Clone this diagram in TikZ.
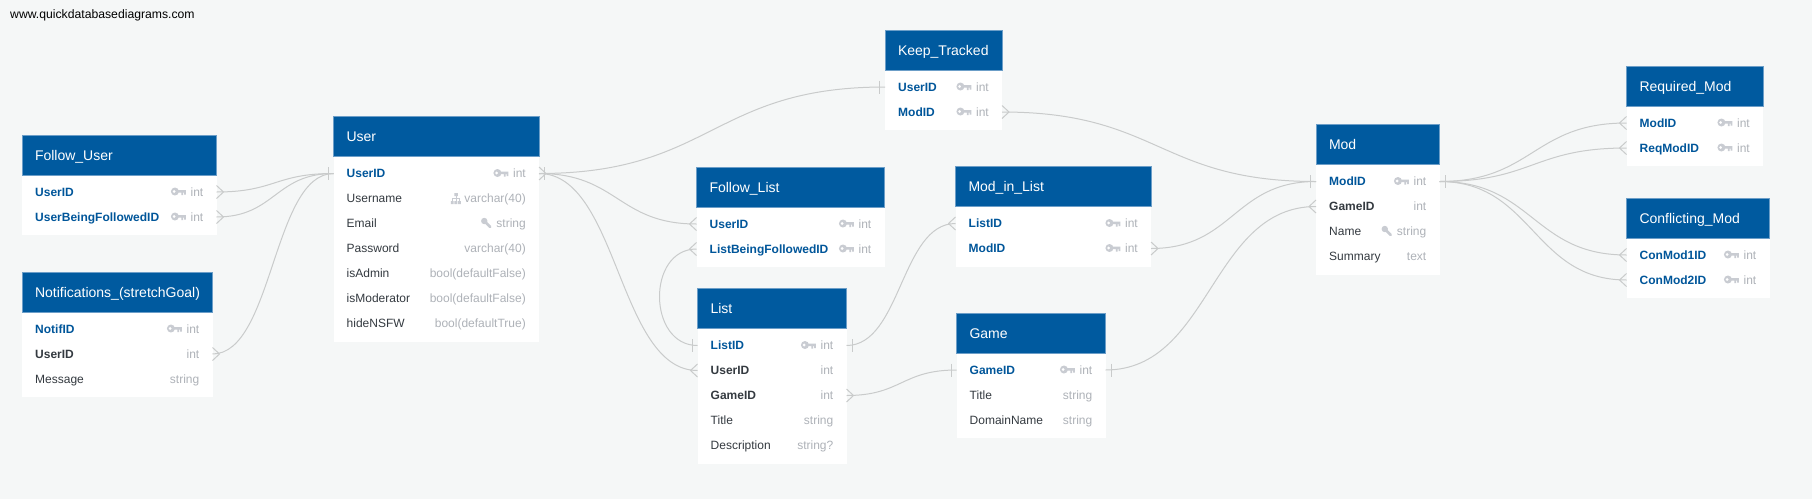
\documentclass[tikz,border=0pt]{standalone}
\usepackage{fontspec}
\setmainfont{Liberation Sans}
\usetikzlibrary{calc}
\definecolor{pagebg}{HTML}{F5F7F7}
\definecolor{headblue}{HTML}{005A9F}
\definecolor{headedge}{HTML}{6C9EC8}
\definecolor{pkblue}{HTML}{00569A}
\definecolor{namedark}{HTML}{343A40}
\definecolor{typegray}{HTML}{AEB2B8}
\definecolor{icongray}{HTML}{C9CCD2}
\definecolor{linkgray}{HTML}{C9CBCB}
\tikzset{
  tablebody/.style={fill=white,draw=none,inner sep=0pt,outer sep=0pt,anchor=north west},
  tablehead/.style={fill=headblue,draw=headedge,line width=.6pt,inner ysep=0pt,inner xsep=13pt,outer sep=0pt,
    anchor=north west,minimum height=40pt,text height=11pt,text depth=1pt,text=white,font=\fontsize{14}{16}\selectfont,align=left},
  rowbox/.style={inner sep=0pt,outer sep=0pt,minimum height=25pt,anchor=west},
  rowpk/.style={inner sep=0pt,anchor=base west,text=pkblue,font=\fontsize{12}{14}\selectfont\bfseries},
  rowfk/.style={inner sep=0pt,anchor=base west,text=namedark,font=\fontsize{12}{14}\selectfont\bfseries},
  rowpl/.style={inner sep=0pt,anchor=base west,text=namedark,font=\fontsize{12}{14}\selectfont},
  typetxt/.style={inner sep=0pt,anchor=base east,text=typegray,font=\fontsize{12}{14}\selectfont},
  linkline/.style={draw=linkgray,line width=1pt},
  sitetxt/.style={inner sep=0pt,anchor=west,text=black,font=\fontsize{12.2}{14}\selectfont},
}
\newcount\rowtally
% icons: #1 is the point at the left end of the type text
\newcommand\drawkey[1]{\begin{scope}[shift={($(#1)+(-19.5,-.5)$)},icongray]
  \fill[even odd rule] (4,0) circle (4) (3.2,0) circle (1.7);
  \fill (7,-1.3) rectangle (15,1.2) (10.5,1) rectangle (12.3,3.6) (13.2,1) rectangle (15,3);
\end{scope}}
\newcommand\drawsite[1]{\begin{scope}[shift={($(#1)+(-13.5,0)$)},icongray]
  \fill (3.5,-5.5) rectangle (7,-2.5) (0,2.5) rectangle (2.8,5.5) (3.6,2.5) rectangle (6.4,5.5) (7.2,2.5) rectangle (10,5.5);
  \draw[line width=.7pt] (5.2,-2.5) -- (5.2,2.5) (1.4,2.5) -- (1.4,.3) -- (8.6,.3) -- (8.6,2.5);
\end{scope}}
\newcommand\drawwr[1]{\begin{scope}[shift={($(#1)+(-15,0)$)},icongray]
  \fill (3,-2.5) circle (3.2);
  \draw[line width=2.6pt,line cap=round] (3.5,-2) -- (9,3.5);
\end{scope}}
\newcommand\drawno[1]{}
% table: name, x0, x1, top, title, rows
\newcommand\ertable[6]{%
  \pgfmathsetlengthmacro\tabw{#3-#2}%
  \pgfmathsetlengthmacro\titw{#3-#2-26}%
  \global\rowtally=0 %
  \foreach \q/\w/\e/\r in {#6}{\global\advance\rowtally by 1}%
  \pgfmathsetlengthmacro\tabh{50+25*\the\rowtally}%
  \node[tablebody,minimum width=\tabw,minimum height=\tabh] (#1) at (#2,#4) {};
  \node[tablehead,minimum width=\tabw,text width=\titw] (#1-head) at (#2,#4) {#5};
  \foreach \rowname/\rowcls/\rowicon/\rowtype [count=\i] in {#6}{%
    \pgfmathsetmacro\yy{#4+32+25*\i}%
    \node[rowbox,minimum width=\tabw] (#1-\i) at (#2,\yy) {};
    \node[\rowcls] (#1-\i-name) at (#2+13,\yy+4) {\rowname};
    \node[typetxt] (#1-\i-type) at (#3-13,\yy+4) {\rowtype};
    \csname draw\rowicon\endcsname{$(#1-\i-type.base west)+(0,-4)$}%
  }%
}
% connectors
\newcommand\conn[2]{\draw[linkline] let \p1=(#1),\p2=(#2),\n1={0.5*(\x2-\x1)} in
  (#1) .. controls (\x1+\n1,\y1) and (\x2-\n1,\y2) .. (#2);}
\newcommand\tickmark[2]{\draw[linkline] ($(#1)+(#2*5.5,-6.5)$) -- ($(#1)+(#2*5.5,6.5)$);}
\newcommand\crowmark[2]{\draw[linkline] ($(#1)+(0,-6.5)$) -- ($(#1)+(#2*7,0)$) -- ($(#1)+(0,6.5)$);}
\begin{document}
\begin{tikzpicture}[x=1pt,y=-1pt]
\path[use as bounding box,fill=pagebg] (0,0) rectangle (1812,499);
\node[sitetxt] (site) at (10,15.5) {www.quickdatabasediagrams.com};

\ertable{FollowUser}{22}{216.5}{135}{Follow\_User}{
  UserID/rowpk/key/int, UserBeingFollowedID/rowpk/key/int}
\ertable{Notif}{22}{212.5}{272}{Notifications\_(stretchGoal)}{
  NotifID/rowpk/key/int, UserID/rowfk/no/int, Message/rowpl/no/string}
\ertable{User}{333.5}{539}{116.5}{User}{
  UserID/rowpk/key/int, Username/rowpl/site/varchar(40), Email/rowpl/wr/string,
  Password/rowpl/no/varchar(40), isAdmin/rowpl/no/bool(defaultFalse),
  isModerator/rowpl/no/bool(defaultFalse), hideNSFW/rowpl/no/bool(defaultTrue)}
\ertable{FollowList}{696.5}{884.5}{167}{Follow\_List}{
  UserID/rowpk/key/int, ListBeingFollowedID/rowpk/key/int}
\ertable{List}{697.5}{846.5}{288.5}{List}{
  ListID/rowpk/key/int, UserID/rowfk/no/int, GameID/rowfk/no/int,
  Title/rowpl/no/string, Description/rowpl/no/string?}
\ertable{KeepTracked}{885}{1002}{30}{Keep\_Tracked}{
  UserID/rowpk/key/int, ModID/rowpk/key/int}
\ertable{ModInList}{955.5}{1151}{166.5}{Mod\_in\_List}{
  ListID/rowpk/key/int, ModID/rowpk/key/int}
\ertable{Game}{956.5}{1105.5}{313}{Game}{
  GameID/rowpk/key/int, Title/rowpl/no/string, DomainName/rowpl/no/string}
\ertable{Mod}{1316}{1439.5}{124.5}{Mod}{
  ModID/rowpk/key/int, GameID/rowfk/no/int, Name/rowpl/wr/string, Summary/rowpl/no/text}
\ertable{ReqMod}{1626.5}{1763}{66}{Required\_Mod}{
  ModID/rowpk/key/int, ReqModID/rowpk/key/int}
\ertable{ConfMod}{1626.5}{1769.5}{198}{Conflicting\_Mod}{
  ConMod1ID/rowpk/key/int, ConMod2ID/rowpk/key/int}

\conn{FollowUser-1.east}{User-1.west}
\conn{FollowUser-2.east}{User-1.west}
\conn{Notif-2.east}{User-1.west}
\conn{User-1.east}{KeepTracked-1.west}
\conn{User-1.east}{FollowList-1.west}
\conn{User-1.east}{List-2.west}
\draw[linkline] (List-1.west) .. controls +(-50,0) and +(-50,0) .. (FollowList-2.west);
\conn{List-1.east}{ModInList-1.west}
\conn{List-3.east}{Game-1.west}
\conn{Game-1.east}{Mod-2.west}
\conn{ModInList-2.east}{Mod-1.west}
\conn{KeepTracked-2.east}{Mod-1.west}
\conn{Mod-1.east}{ReqMod-1.west}
\conn{Mod-1.east}{ReqMod-2.west}
\conn{Mod-1.east}{ConfMod-1.west}
\conn{Mod-1.east}{ConfMod-2.west}

\crowmark{FollowUser-1.east}{1}
\crowmark{FollowUser-2.east}{1}
\crowmark{Notif-2.east}{1}
\tickmark{User-1.west}{-1}
\tickmark{User-1.east}{1}
\crowmark{User-1.east}{1}
\tickmark{KeepTracked-1.west}{-1}
\crowmark{KeepTracked-2.east}{1}
\crowmark{FollowList-1.west}{-1}
\crowmark{FollowList-2.west}{-1}
\tickmark{List-1.west}{-1}
\crowmark{List-2.west}{-1}
\tickmark{List-1.east}{1}
\crowmark{List-3.east}{1}
\crowmark{ModInList-1.west}{-1}
\crowmark{ModInList-2.east}{1}
\tickmark{Game-1.west}{-1}
\tickmark{Game-1.east}{1}
\tickmark{Mod-1.west}{-1}
\crowmark{Mod-2.west}{-1}
\tickmark{Mod-1.east}{1}
\crowmark{ReqMod-1.west}{-1}
\crowmark{ReqMod-2.west}{-1}
\crowmark{ConfMod-1.west}{-1}
\crowmark{ConfMod-2.west}{-1}
\end{tikzpicture}
\end{document}
